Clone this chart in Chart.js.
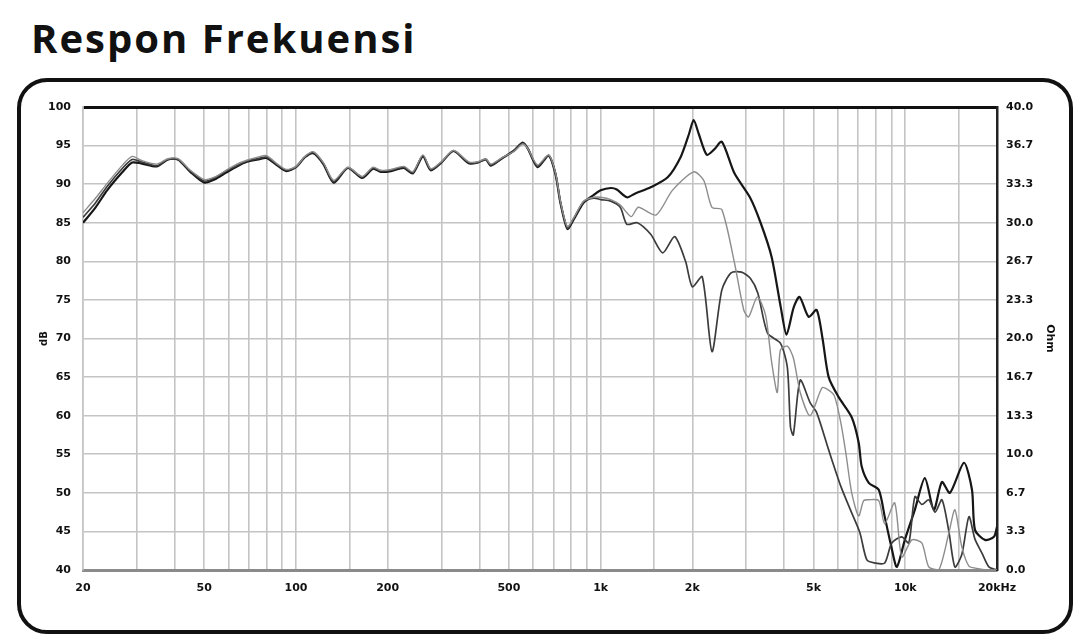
<!DOCTYPE html>
<html>
<head>
<meta charset="utf-8">
<title>Respon Frekuensi</title>
<script src="https://cdn.jsdelivr.net/npm/chart.js@4.4.1/dist/chart.umd.min.js"></script>
<style>
  html, body { margin: 0; padding: 0; background: #fff; }
  body { width: 1080px; height: 643px; position: relative; overflow: hidden; }
  h1 {
    position: absolute; left: 31px; top: 18px; margin: 0;
    font-family: "Open Sans", Lato, sans-serif; font-weight: 700;
    font-size: 40px; line-height: 1; letter-spacing: 2px; color: #111;
  }
  #frame {
    position: absolute; left: 17px; top: 78px; width: 1056px; height: 556px;
    box-sizing: border-box; border: 4px solid #111; border-radius: 30px;
  }
  #chart { position: absolute; left: 0; top: 0; }
</style>
</head>
<body>
<h1>Respon Frekuensi</h1>
<div id="frame"></div>
<canvas id="chart" width="1080" height="643"></canvas>
<script>

// dark curve (highest above 1k)
const freqA = [20, 22, 24, 27, 29, 31, 35, 38, 41, 45, 50, 54, 59, 64, 69, 75, 80, 87, 93, 100,
  107, 114, 123, 133, 148, 165, 179, 190, 205, 226, 242, 261, 277, 300, 329, 369, 395, 420, 436, 477,
  518, 555, 577, 621, 675, 711, 738, 778, 815, 879, 950, 1000, 1080, 1130, 1220, 1300, 1460, 1660, 1830, 1950,
  2020, 2100, 2230, 2360, 2500, 2750, 3090, 3350, 3640, 3900, 4076, 4300, 4498, 4816, 5116, 5350, 5604, 6044, 6670, 7032,
  7194, 7586, 8182, 8562, 9000, 9382, 9966, 10748, 11594, 12412, 13186, 14008, 15578, 16554, 16932, 18260, 19546, 20000];
const dbA = [85.0, 87.0, 89.2, 91.6, 92.8, 92.7, 92.3, 93.2, 93.2, 91.6, 90.2, 90.6, 91.5, 92.3, 92.9, 93.2, 93.4, 92.4, 91.7, 92.2,
  93.5, 94.0, 92.6, 90.2, 92.1, 90.8, 92.0, 91.6, 91.7, 92.1, 91.4, 93.6, 91.8, 92.8, 94.3, 92.7, 92.8, 93.2, 92.4, 93.4,
  94.3, 95.4, 94.6, 92.2, 93.7, 91.3, 87.6, 84.2, 85.4, 87.6, 88.6, 89.2, 89.5, 89.3, 88.3, 88.8, 89.6, 90.9, 93.5, 96.5,
  98.3, 96.5, 93.8, 94.5, 95.5, 91.4, 88.3, 85.0, 80.6, 74.1, 70.5, 74.0, 75.4, 72.8, 73.7, 70.0, 65.0, 62.4, 59.8, 56.5,
  53.4, 51.3, 50.4, 46.9, 43.0, 40.4, 43.9, 47.8, 51.9, 47.8, 51.4, 50.0, 53.9, 50.4, 45.2, 43.9, 44.3, 45.6];

// light grey curve (middle peak at 2k)
const freqB = [20, 22, 24, 27, 29, 31, 35, 38, 41, 45, 50, 54, 59, 64, 69, 75, 80, 87, 93, 100,
  107, 114, 123, 133, 148, 165, 179, 190, 205, 226, 242, 261, 277, 300, 329, 369, 395, 420, 436, 477,
  518, 555, 577, 621, 675, 711, 738, 778, 815, 879, 950, 1000, 1080, 1160, 1260, 1330, 1520, 1720, 2020, 2180,
  2320, 2500, 2750, 2950, 3060, 3270, 3480, 3640, 3800, 3890, 4100, 4290, 4520, 4870, 5330, 5600, 5860, 6150, 6390, 6670,
  7030, 7300, 7590, 8180, 8560, 9230, 9740, 10510, 11330, 11940, 12880, 13900, 14550, 15330, 16180, 17200, 18500, 20000];
const dbB = [86.3, 88.2, 90.1, 92.5, 93.6, 93.1, 92.6, 93.3, 93.3, 91.8, 90.6, 90.9, 91.8, 92.6, 93.1, 93.5, 93.7, 92.6, 91.9, 92.3,
  93.6, 94.2, 92.8, 90.5, 92.2, 91.0, 92.2, 91.8, 91.9, 92.3, 91.6, 93.8, 92.0, 92.9, 94.4, 92.9, 92.9, 93.3, 92.6, 93.5,
  94.2, 95.2, 94.6, 92.5, 93.8, 91.5, 87.8, 84.5, 85.6, 87.8, 88.3, 88.3, 88.0, 87.3, 85.8, 87.0, 86.0, 89.2, 91.6, 90.5,
  87.0, 86.7, 79.8, 73.7, 72.8, 75.4, 73.0, 67.0, 63.0, 68.5, 69.0, 67.5, 63.0, 60.0, 63.6, 63.3, 62.5, 59.0, 55.0, 50.0,
  47.0, 49.0, 49.1, 49.0, 46.0, 48.7, 41.7, 43.9, 43.5, 40.4, 40.0, 44.8, 47.8, 43.0, 40.5, 40.2, 40.0, 40.0];

// dark grey curve (drops first, dip at 2.3k)
const freqC = [20, 22, 24, 27, 29, 31, 35, 38, 41, 45, 50, 54, 59, 64, 69, 75, 80, 87, 93, 100,
  107, 114, 123, 133, 148, 165, 179, 190, 205, 226, 242, 261, 277, 300, 329, 369, 395, 420, 436, 477,
  518, 555, 577, 621, 675, 711, 738, 778, 815, 879, 950, 1003, 1080, 1160, 1220, 1320, 1460, 1600, 1750, 1900,
  2000, 2155, 2320, 2500, 2680, 2900, 3100, 3280, 3530, 3890, 4100, 4200, 4290, 4520, 4870, 5120, 5600, 6150, 6670, 7100,
  7480, 7960, 8560, 9030, 9740, 10270, 10750, 11330, 11940, 12530, 13190, 13900, 14550, 15330, 16180, 16930, 17850, 18810, 20000];
const dbC = [85.7, 87.6, 89.7, 92.1, 93.2, 92.9, 92.4, 93.2, 93.2, 91.7, 90.4, 90.8, 91.7, 92.4, 93.0, 93.3, 93.5, 92.5, 91.8, 92.2,
  93.5, 94.1, 92.7, 90.3, 92.1, 90.9, 92.1, 91.7, 91.8, 92.2, 91.5, 93.7, 91.9, 92.8, 94.3, 92.8, 92.8, 93.2, 92.5, 93.4,
  94.3, 95.3, 94.6, 92.3, 93.7, 91.4, 87.7, 84.3, 85.5, 87.7, 88.2, 88.0, 87.8, 87.0, 84.8, 85.0, 83.5, 81.1, 83.2, 80.0,
  76.7, 78.0, 68.3, 76.3, 78.5, 78.6, 77.8, 75.9, 70.7, 69.4, 66.3, 58.5, 57.5, 64.6, 61.7, 60.4, 55.6, 50.8, 47.4, 44.8,
  41.3, 40.9, 40.9, 43.5, 44.3, 43.5, 49.5, 48.5, 49.1, 47.5, 49.1, 45.0, 40.4, 42.0, 46.9, 44.0, 42.2, 40.4, 40.0];

// axis ticks
const gridFreqs = [20, 30, 40, 50, 60, 70, 80, 90, 100, 150, 200, 300, 400, 500, 600, 700, 800, 900,
  1000, 1500, 2000, 3000, 4000, 5000, 6000, 7000, 8000, 9000, 10000, 15000, 20000];
const freqLabels = { 20: '20', 50: '50', 100: '100', 200: '200', 500: '500', 1000: '1k',
  2000: '2k', 5000: '5k', 10000: '10k', 20000: '20kHz' };
const ohmTicks = [0, 3.333, 6.667, 10, 13.333, 16.667, 20, 23.333, 26.667, 30, 33.333, 36.667, 40];

const toPoints = (fs, vs) => fs.map((f, i) => ({ x: f, y: vs[i] }));

const tickFont = { family: '"DejaVu Sans", sans-serif', weight: 'bold', size: 11 };

new Chart(document.getElementById('chart'), {
  type: 'line',
  data: {
    datasets: [
      { label: 'B', data: toPoints(freqB, dbB), borderColor: '#8d8d8d', borderWidth: 1.4 },
      { label: 'C', data: toPoints(freqC, dbC), borderColor: '#3c3c3c', borderWidth: 1.7 },
      { label: 'A', data: toPoints(freqA, dbA), borderColor: '#161616', borderWidth: 2.2 }
    ]
  },
  options: {
    responsive: false,
    animation: false,
    layout: { padding: { left: 20, right: 20, top: 107, bottom: 40 } },
    elements: { point: { radius: 0 }, line: { tension: 0.25 } },
    plugins: { legend: { display: false }, tooltip: { enabled: false } },
    scales: {
      x: {
        type: 'logarithmic',
        min: 20,
        max: 20000,
        afterBuildTicks: (axis) => { axis.ticks = gridFreqs.map(v => ({ value: v })); },
        afterFit: (axis) => { axis.height = 33; },
        ticks: {
          autoSkip: false, maxRotation: 0, padding: 12, color: '#111', font: tickFont,
          callback: (v) => freqLabels[v] || ''
        },
        grid: { color: '#c4c4c4', lineWidth: 1.6, drawTicks: false },
        border: { color: '#8a8a8a', width: 3 }
      },
      y: {
        position: 'left',
        min: 40,
        max: 100,
        afterFit: (axis) => { axis.width = 63; },
        ticks: { stepSize: 5, padding: 12, color: '#111', font: tickFont },
        grid: {
          drawTicks: false,
          color: (c) => c.tick && c.tick.value === 100 ? '#111' : (c.tick && c.tick.value === 40 ? '#8a8a8a' : '#c4c4c4'),
          lineWidth: (c) => c.tick && c.tick.value === 100 ? 3 : 1.6
        },
        border: { color: '#c4c4c4', width: 1.6 },
        title: { display: true, text: 'dB', color: '#111', font: { family: '"DejaVu Sans", sans-serif', weight: 'bold', size: 10 }, padding: { top: 18, bottom: 0 } }
      },
      y2: {
        position: 'right',
        min: 0,
        max: 40,
        afterBuildTicks: (axis) => { axis.ticks = ohmTicks.map(v => ({ value: v })); },
        afterFit: (axis) => { axis.width = 63; },
        ticks: { padding: 9, color: '#111', font: tickFont, callback: (v) => v.toFixed(1) },
        grid: { drawOnChartArea: false, drawTicks: false },
        border: { color: '#222', width: 2.5 },
        title: { display: true, text: 'Ohm', color: '#111', font: { family: '"DejaVu Sans", sans-serif', weight: 'bold', size: 11 }, padding: { top: 4, bottom: 0 } }
      }
    }
  }
});
</script>
</body>
</html>
